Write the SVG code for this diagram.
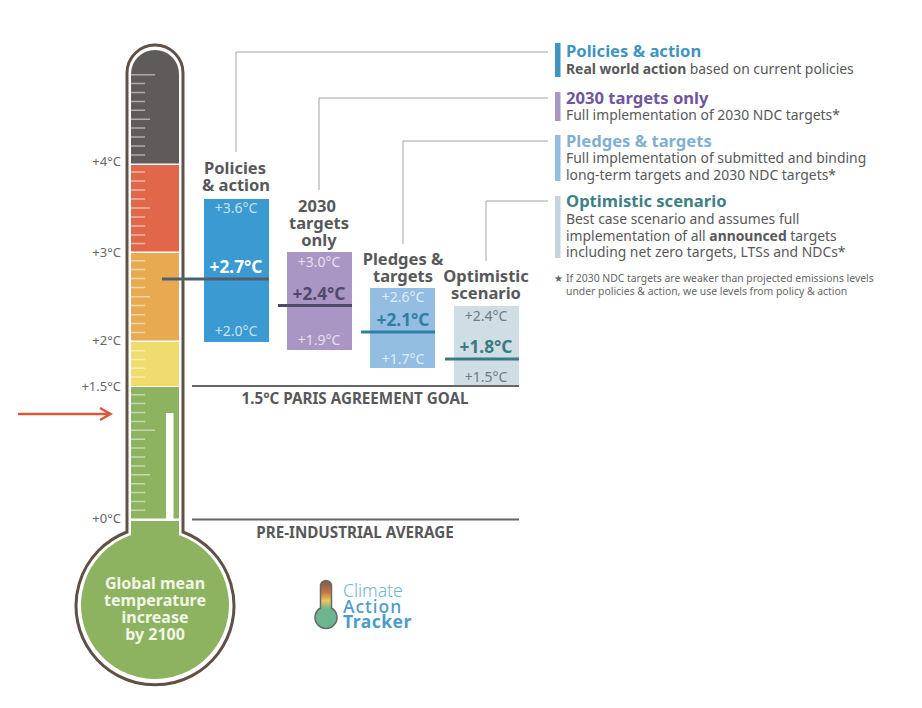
<svg xmlns="http://www.w3.org/2000/svg" width="922" height="708" viewBox="0 0 922 708">
<defs>
<linearGradient id="logoTube" x1="0" y1="0" x2="0" y2="1"><stop offset="0" stop-color="#7a5a50"/><stop offset=".25" stop-color="#c8743f"/><stop offset=".42" stop-color="#e8c85e"/><stop offset=".6" stop-color="#6cb58e"/><stop offset="1" stop-color="#6cb58e"/></linearGradient>
</defs>
<style>
text{font-family:"Noto Sans","Open Sans","Liberation Sans",sans-serif}
.tick{stroke:#fff;stroke-opacity:.5;stroke-width:1.5}
.scale{font-size:13px;fill:#666;text-anchor:end}
.head{font-size:16.5px;font-weight:700;fill:#58585a;text-anchor:middle}
.v{font-size:14px;text-anchor:middle;fill:#fff;fill-opacity:.72}
.vd{font-size:14px;text-anchor:middle;fill:#6f7b82}
.m{font-size:17.300px;font-weight:700;text-anchor:middle}
.conn{fill:none;stroke:#a3a3a3;stroke-width:1}
.goal{stroke:#666;stroke-width:2}
.gl{font-size:15.200px;font-weight:700;fill:#58585a;text-anchor:middle}
.t{font-size:16.600px;font-weight:700}
.b{font-size:13.900px;fill:#58585a}
.f{font-size:10.400px;fill:#666}
.bulb{font-size:16px;font-weight:700;fill:#f2f6e8;text-anchor:middle}
</style>
<g id="connectors">
<path class="conn" d="M236 152V52H548"/>
<path class="conn" d="M319 190V98H548"/>
<path class="conn" d="M403 244V141H548"/>
<path class="conn" d="M486 261V201H548"/>
<path d="M18 414H110M100 408L110.500 414L100 420" fill="none" stroke="#d9583b" stroke-width="2.500"/>
<line class="goal" x1="192" y1="386" x2="519" y2="386"/>
<line class="goal" x1="192" y1="519.500" x2="519" y2="519.500"/>
</g>
<g id="thermometer">
<path d="M127 532V73A28 28 0 0 1 183 73V532A79 79 0 1 1 127 532Z" fill="#fff" stroke="#5f5048" stroke-width="3"/>
<path d="M131 163.500V74A24 24 0 0 1 179 74V163.500Z" fill="#5e5b5a"/>
<rect x="131" y="165" width="48" height="86.500" fill="#e1674a"/>
<rect x="131" y="253" width="48" height="87.500" fill="#e8aa50"/>
<rect x="131" y="342" width="48" height="44" fill="#f0dc6c"/>
<rect x="131" y="387" width="48" height="131.500" fill="#8db360"/>
<path d="M131 521H179V535A74 74 0 1 1 131 535Z" fill="#8db360"/>
<rect x="166" y="413" width="7.500" height="106" fill="#fff"/>
<path class="tick" d="M131 74.700H155M131 83.600H145M131 92.500H145M131 101.400H145M131 110.300H145M131 119.200H150M131 128H145M131 137H145M131 146H145M131 155H145M131 172H145M131 181H145M131 190H145M131 199H145M131 208H150M131 217H145M131 226H145M131 235H145M131 243.500H145M131 260.700H145M131 269.600H145M131 278.500H145M131 287.500H145M131 296.700H150M131 305.500H145M131 314.700H145M131 323.600H145M131 332.500H145M131 350.700H145M131 359.500H145M131 368.300H145M131 377H145M131 394.700H145M131 403.600H145M131 412.500H145M131 421.500H145M131 430.300H155M131 439.200H145M131 448H145M131 457H145M131 466H145M131 474.700H150M131 483.700H145M131 492.500H145M131 501.500H145M131 510.300H145"/>
<text class="bulb" x="155" y="589">Global mean</text>
<text class="bulb" x="155" y="606">temperature</text>
<text class="bulb" x="155" y="623">increase</text>
<text class="bulb" x="155" y="640">by 2100</text>
<text class="scale" x="121" y="166">+4°C</text>
<text class="scale" x="121" y="257">+3°C</text>
<text class="scale" x="121" y="345">+2°C</text>
<text class="scale" x="121" y="391">+1.5°C</text>
<text class="scale" x="121" y="523">+0°C</text>
</g>
<g id="policies-action">
<text class="head" x="235" y="174">Policies</text>
<text class="head" x="236" y="191">&amp; action</text>
<rect x="204" y="199" width="65" height="143" fill="#3b9ad2"/>
<line x1="162" y1="279" x2="269" y2="279" stroke="#4f5f70" stroke-width="3"/>
<text class="v" x="236" y="213">+3.6°C</text>
<text class="m" x="236" y="273" fill="#fff">+2.7°C</text>
<text class="v" x="236" y="336">+2.0°C</text>
</g>
<g id="targets-2030">
<text class="head" x="317" y="212">2030</text>
<text class="head" x="319" y="229">targets</text>
<text class="head" x="319" y="246">only</text>
<rect x="287" y="252" width="65" height="98" fill="#a996c5"/>
<line x1="278" y1="305.500" x2="352" y2="305.500" stroke="#4f4a6a" stroke-width="3"/>
<text class="v" x="319" y="267">+3.0°C</text>
<text class="m" x="319" y="300" fill="#4f4a6a">+2.4°C</text>
<text class="v" x="319" y="345">+1.9°C</text>
</g>
<g id="pledges-targets">
<text class="head" x="403" y="265">Pledges &amp;</text>
<text class="head" x="403" y="282">targets</text>
<rect x="370" y="288" width="65" height="80" fill="#94bee1"/>
<line x1="361" y1="332" x2="435" y2="332" stroke="#2e7ea6" stroke-width="3"/>
<text class="v" x="403" y="302">+2.6°C</text>
<text class="m" x="403" y="326" fill="#2e7ea6">+2.1°C</text>
<text class="v" x="403" y="364">+1.7°C</text>
</g>
<g id="optimistic-scenario">
<text class="head" x="486" y="282">Optimistic</text>
<text class="head" x="486" y="299">scenario</text>
<rect x="454" y="306" width="65" height="79" fill="#cfdde5"/>
<line x1="445" y1="359" x2="519" y2="359" stroke="#3a7a80" stroke-width="3"/>
<text class="vd" x="486" y="321">+2.4°C</text>
<text class="m" x="486" y="353" fill="#3a7a80">+1.8°C</text>
<text class="vd" x="486" y="382">+1.5°C</text>
</g>
<g id="goal-labels">
<text class="gl" x="355" y="404">1.5°C PARIS AGREEMENT GOAL</text>
<text class="gl" x="355" y="538">PRE-INDUSTRIAL AVERAGE</text>
</g>
<g id="legend-policies">
<rect x="555" y="43" width="5.500" height="34" fill="#3f94c2"/>
<text class="t" x="566" y="57" fill="#3f94c2">Policies &amp; action</text>
<text class="b" x="566" y="74"><tspan font-weight="700">Real world action</tspan> based on current policies</text>
</g>
<g id="legend-2030">
<rect x="555" y="92" width="5.500" height="29" fill="#a996c5"/>
<text class="t" x="566" y="104" fill="#70559f">2030 targets only</text>
<text class="b" x="566" y="120">Full implementation of 2030 NDC targets*</text>
</g>
<g id="legend-pledges">
<rect x="555" y="135" width="5.500" height="46" fill="#94bee1"/>
<text class="t" x="566" y="147" fill="#7fb0d2">Pledges &amp; targets</text>
<text class="b" x="566" y="163">Full implementation of submitted and binding</text>
<text class="b" x="566" y="180">long-term targets and 2030 NDC targets*</text>
</g>
<g id="legend-optimistic">
<rect x="555" y="196" width="5.500" height="62" fill="#c3d4dc"/>
<text class="t" x="566" y="207" fill="#3f7f86">Optimistic scenario</text>
<text class="b" x="566" y="224">Best case scenario and assumes full</text>
<text class="b" x="566" y="241">implementation of all <tspan font-weight="700">announced</tspan> targets</text>
<text class="b" x="566" y="257">including net zero targets, LTSs and NDCs*</text>
</g>
<g id="footnote">
<text class="f" x="554" y="282">★</text>
<text class="f" x="566" y="282">If 2030 NDC targets are weaker than projected emissions levels</text>
<text class="f" x="566" y="295">under policies &amp; action, we use levels from policy &amp; action</text>
</g>
<g id="logo">
<path d="M320.500 608V586A5.500 5.500 0 0 1 331.500 586V608A11 11 0 1 1 320.500 608Z" fill="url(#logoTube)" stroke="#5f6b66" stroke-width="1.500"/>
<text x="343" y="597" font-size="17.500" font-weight="300" fill="#72b4d0">Climate</text>
<text x="343" y="613" font-size="17.500" font-weight="500" letter-spacing="1" fill="#4b9cc8">Action</text>
<text x="343" y="628" font-size="17.500" font-weight="700" letter-spacing=".5" fill="#4b9cc8">Tracker</text>
</g>
</svg>
